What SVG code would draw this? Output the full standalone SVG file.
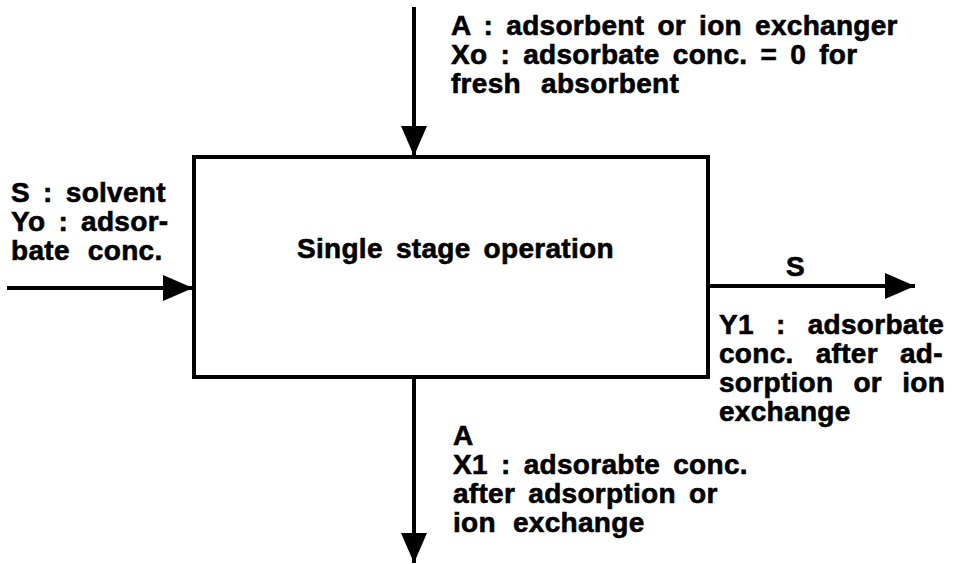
<svg xmlns="http://www.w3.org/2000/svg" width="953" height="564" viewBox="0 0 953 564">
<defs>
<marker id="ah" markerUnits="userSpaceOnUse" markerWidth="32" markerHeight="28" refX="30" refY="13" orient="auto">
<path d="M0,0 L30,13 L0,26 Z" fill="#000"/>
</marker>
<style>
.t{font-family:"Liberation Sans",Arial,sans-serif;font-weight:bold;font-size:28px;fill:#000;stroke:#000;stroke-width:0.6;word-spacing:5px;letter-spacing:0.3px}
.ln{stroke:#000;stroke-width:4;fill:none}
.box{stroke:#000;stroke-width:4;fill:#fff}
</style>
</defs>
<rect width="953" height="564" fill="#fff"/>
<g id="connectors">
<line class="ln" x1="414" y1="7" x2="414" y2="156" marker-end="url(#ah)"/>
<line class="ln" x1="7" y1="288" x2="193" y2="288" marker-end="url(#ah)"/>
<line class="ln" x1="709" y1="286" x2="915" y2="286" marker-end="url(#ah)"/>
<line class="ln" x1="414" y1="378" x2="414" y2="563" marker-end="url(#ah)"/>
</g>
<g id="stage">
<rect class="box" x="194" y="157" width="514" height="220"/>
<text class="t" x="297" y="258">Single stage operation</text>
</g>
<g id="input-adsorbent">
<text class="t" x="451" y="35">A : adsorbent or ion exchanger</text>
<text class="t" x="451" y="64">Xo : adsorbate conc. = 0 for</text>
<text class="t" x="451" y="93" style="word-spacing:12px">fresh absorbent</text>
</g>
<g id="input-solvent">
<text class="t" x="11" y="202">S : solvent</text>
<text class="t" x="11" y="231">Yo : adsor-</text>
<text class="t" x="11" y="260" style="word-spacing:10px">bate conc.</text>
</g>
<g id="output-solvent">
<text class="t" x="786" y="276">S</text>
<text class="t" x="719" y="334" style="word-spacing:14px">Y1 : adsorbate</text>
<text class="t" x="719" y="363" style="word-spacing:14px">conc. after ad-</text>
<text class="t" x="719" y="392" style="word-spacing:12px">sorption or ion</text>
<text class="t" x="719" y="421">exchange</text>
</g>
<g id="output-adsorbent">
<text class="t" x="453" y="445">A</text>
<text class="t" x="453" y="474">X1 : adsorabte conc.</text>
<text class="t" x="453" y="503">after adsorption or</text>
<text class="t" x="453" y="532" style="word-spacing:9px">ion exchange</text>
</g>
</svg>
